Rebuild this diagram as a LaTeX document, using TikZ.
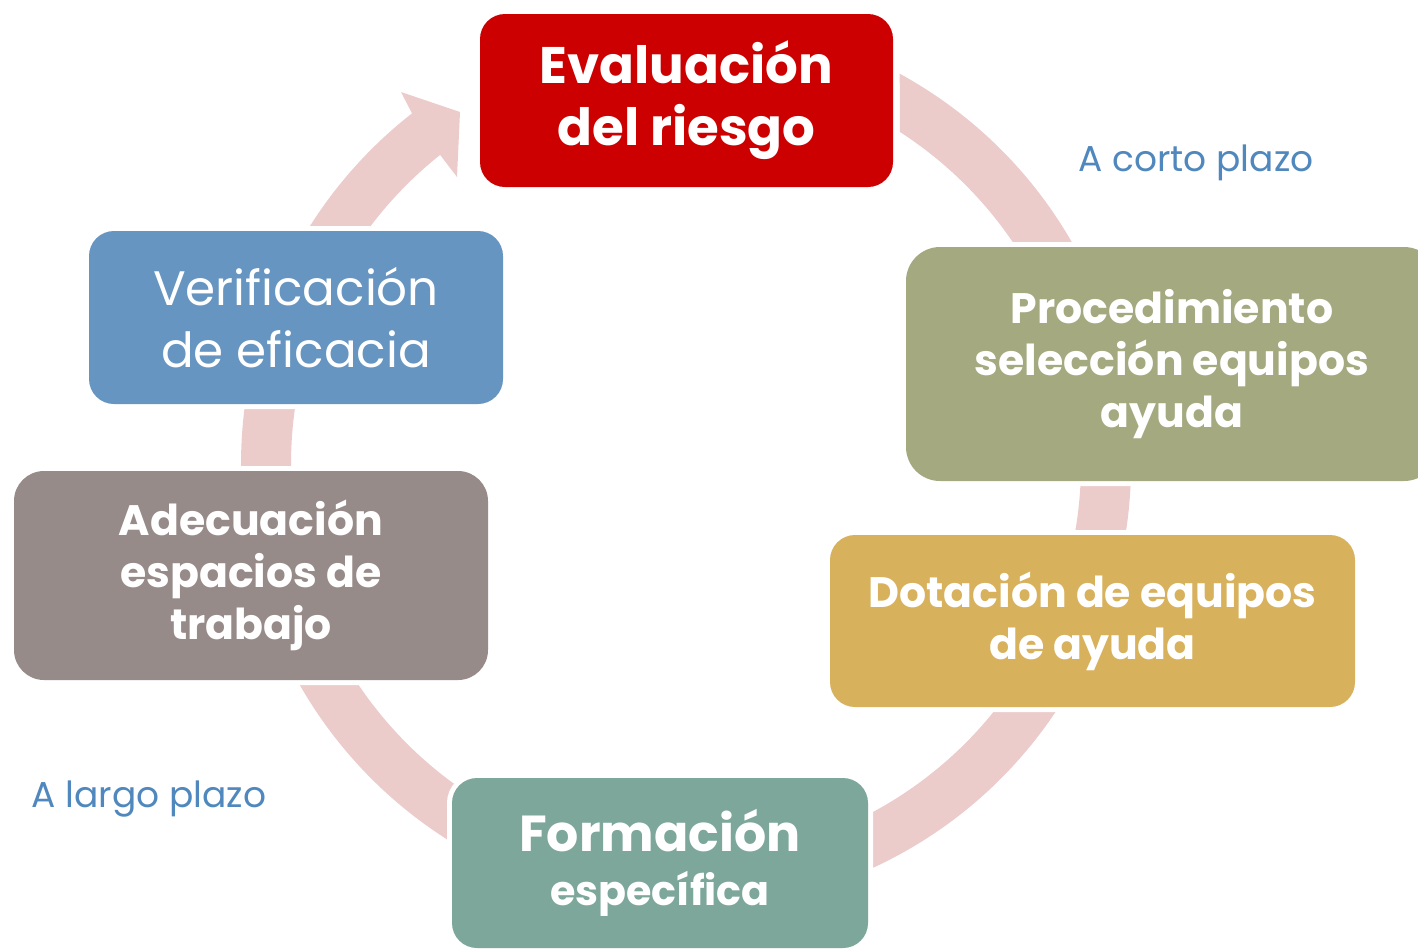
\documentclass[tikz,border=0pt]{standalone}
\usepackage{fontspec}
\setmainfont{Poppins}
\usepackage{xcolor}
\definecolor{riskred}{HTML}{CC0000}
\definecolor{procgreen}{HTML}{A4A97F}
\definecolor{dotgold}{HTML}{D8B15D}
\definecolor{formteal}{HTML}{7DA79B}
\definecolor{adecgrey}{HTML}{978B89}
\definecolor{verifblue}{HTML}{6595C0}
\definecolor{ringpink}{HTML}{ECCBCB}
\definecolor{noteblue}{HTML}{5088BE}
\usetikzlibrary{calc}

\begin{document}
\begin{tikzpicture}[
  x=0.5pt, y=-0.5pt,
  stage/.style={rectangle, rounded corners=12.5pt, text=white, align=center, inner sep=0pt,
    preaction={draw=white, line width=5pt}},
  bigbold/.style={font=\fontsize{25.7}{31}\selectfont\bfseries},
  midbold/.style={font=\fontsize{21.3}{26}\selectfont\bfseries},
  note/.style={text=noteblue, anchor=base, inner sep=0pt, font=\fontsize{18}{21}\selectfont},
  ring/.style={fill=ringpink}
]
  \useasboundingbox (0,0) rectangle (1418,949);
  \clip (0,0) rectangle (1418,949);
  \coordinate (c) at (686,464);

  % cycle arrow behind the stages
  \fill[ring] ($(c)+(-61.3:445)$) arc[start angle=-61.3, end angle=232, radius=445]
    -- (401,92) -- (460,112) -- (457,177)
    -- ($(c)+(231.5:395)$) arc[start angle=231.5, end angle=-57.2, radius=395] -- cycle;

  \node[stage, bigbold, fill=riskred, minimum width=206.5pt, minimum height=86.5pt] (eval) at (686.5,100.5) {Evaluación\\del riesgo};
  \node[stage, midbold, fill=procgreen, minimum width=266pt, minimum height=117pt, rounded corners=17pt] (proc) at (1172,364) {Procedimiento\\selección equipos\\ayuda};
  \node[stage, midbold, fill=dotgold, minimum width=262.5pt, minimum height=86pt] (dot) at (1092.5,621) {Dotación de equipos\\de ayuda};
  \node[stage, font=\fontsize{20.6}{27}\selectfont\bfseries, fill=formteal, minimum width=208pt, minimum height=85pt] (form) at (660,863) {{\fontsize{25.3}{27}\selectfont Formación}\\específica};
  \node[stage, midbold, fill=adecgrey, minimum width=237pt, minimum height=104.5pt, rounded corners=15pt] (adec) at (251,575.5) {Adecuación\\espacios de\\trabajo};
  \node[stage, font=\fontsize{24.2}{31}\selectfont, fill=verifblue, minimum width=207pt, minimum height=86.5pt] (verif) at (296,317.5) {Verificación\\de eficacia};

  \node[note] (short) at (1196,171) {A corto plazo};
  \node[note] (long) at (149,807) {A largo plazo};
\end{tikzpicture}
\end{document}
